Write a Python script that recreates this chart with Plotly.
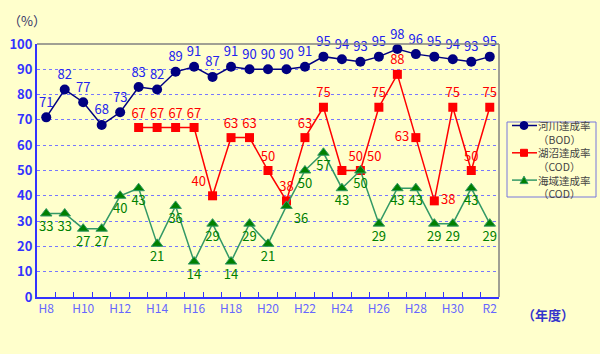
import plotly.graph_objects as go

years = ["H8","H9","H10","H11","H12","H13","H14","H15","H16","H17","H18","H19","H20",
         "H21","H22","H23","H24","H25","H26","H27","H28","H29","H30","R1","R2"]
tick_labels = [y if i % 2 == 0 else "" for i, y in enumerate(years)]
river = [71,82,77,68,73,83,82,89,91,87,91,90,90,90,91,95,94,93,95,98,96,95,94,93,95]
lake = [None]*5 + [67,67,67,67,40,63,63,50,38,63,75,50,50,75,88,63,38,75,50,75]
sea = [33,33,27,27,40,43,21,36,14,29,14,29,21,36,50,57,43,50,29,43,43,29,29,43,29]
series_names = ["河川達成率", "湖沼達成率", "海域達成率"]
series_sub = ["（BOD）", "（COD）", "（COD）"]

river_pos = ["top center"]*25
lake_pos = ["top center"]*25
lake_pos[9] = "top left"
lake_pos[16] = "top right"
lake_pos[17] = "top right"
lake_pos[20] = "middle left"
lake_pos[21] = "middle right"
sea_pos = ["bottom center"]*25
sea_pos[13] = "bottom right"

BG = "#FFFFCC"
FONT = "Noto Sans CJK JP"
L, R, T, B = 37, 101, 44, 57
W, H = 600, 354
PW, PH = W - L - R, H - T - B

def px(x):
    return (x - L) / PW

def py(y):
    return (H - B - y) / PH

fig = go.Figure()
fig.add_trace(go.Scatter(
    x=years, y=river, mode="lines+markers+text", name=series_names[0],
    line=dict(color="#000080", width=1.5),
    marker=dict(symbol="circle", size=10, color="#000080"),
    text=[str(v) for v in river], textposition=river_pos, cliponaxis=False,
    textfont=dict(color="#2222EE", size=13, family=FONT)))
fig.add_trace(go.Scatter(
    x=years, y=lake, mode="lines+markers+text", name=series_names[1],
    line=dict(color="#FF0000", width=1.5),
    marker=dict(symbol="square", size=9, color="#FF0000"),
    text=["" if v is None else str(v) for v in lake], textposition=lake_pos, cliponaxis=False,
    textfont=dict(color="#FF0000", size=13, family=FONT)))
fig.add_trace(go.Scatter(
    x=years, y=sea, mode="lines+markers+text", name=series_names[2],
    line=dict(color="#339966", width=1.5),
    marker=dict(symbol="triangle-up", size=10, color="#008000", line=dict(color="#339966", width=1)),
    text=[str(v) for v in sea], textposition=sea_pos, cliponaxis=False,
    textfont=dict(color="#008000", size=13, family=FONT)))

shapes = [
    dict(type="line", xref="paper", yref="paper", x0=0, x1=1, y0=1, y1=1,
         line=dict(color="#808080", width=1.5)),
    dict(type="line", xref="paper", yref="paper", x0=1, x1=1, y0=0, y1=1,
         line=dict(color="#808080", width=1.5)),
    # legend box
    dict(type="rect", xref="paper", yref="paper", x0=px(507), x1=px(596), y0=py(197), y1=py(122),
         line=dict(color="#7777DD", width=1), fillcolor=BG),
]
legend_text = "<br>".join(n + "<br>" + s for n, s in zip(series_names, series_sub))
LFS = 10.5
line_h = LFS * 1.3
y_first = 125.5
annotations = [
    dict(text="（%）", xref="paper", yref="paper", x=px(27), y=py(20), xanchor="center",
         yanchor="middle", showarrow=False, font=dict(size=13, color="#333366", family=FONT)),
    dict(text="<b>（年度）</b>", xref="paper", yref="paper", x=px(548), y=py(314),
         xanchor="center", yanchor="middle", showarrow=False,
         font=dict(size=13, color="#3333CC", family=FONT)),
    dict(text=legend_text, xref="paper", yref="paper", x=px(537),
         y=py(y_first + 2.5 * line_h), xanchor="left", yanchor="middle", align="left",
         showarrow=False, borderpad=0, font=dict(size=LFS, color="#444444", family=FONT)),
]

leg_colors = ["#000080", "#FF0000", "#339966"]
leg_y = [y_first + 2 * i * line_h for i in range(3)]
for i in range(3):
    yc = leg_y[i]
    shapes.append(dict(type="line", xref="paper", yref="paper", x0=px(512), x1=px(537),
                       y0=py(yc), y1=py(yc), line=dict(color=leg_colors[i], width=1.5)))
# legend markers
yc = leg_y[0]
shapes.append(dict(type="circle", xref="paper", yref="paper", x0=px(520), x1=px(528),
                   y0=py(yc + 4), y1=py(yc - 4), fillcolor="#000080", line=dict(color="#000080", width=1)))
yc = leg_y[1]
shapes.append(dict(type="rect", xref="paper", yref="paper", x0=px(520.5), x1=px(527.5),
                   y0=py(yc + 3.5), y1=py(yc - 3.5), fillcolor="#FF0000", line=dict(color="#FF0000", width=1)))
yc = leg_y[2]
shapes.append(dict(type="path", xref="paper", yref="paper",
                   path="M {a},{b} L {c},{b} L {d},{e} Z".format(a=px(520), b=py(yc + 3.5), c=px(528),
                                                                  d=px(524), e=py(yc - 4)),
                   fillcolor="#008000", line=dict(color="#339966", width=1)))

fig.update_layout(
    width=W, height=H,
    margin=dict(l=L, r=R, t=T, b=B, autoexpand=False),
    paper_bgcolor=BG, plot_bgcolor=BG,
    font=dict(family=FONT),
    showlegend=False,
    xaxis=dict(type="category", categoryorder="array", categoryarray=years,
               tickvals=years, ticktext=tick_labels, tickson="boundaries",
               ticks="inside", ticklen=5, tickcolor="#3333FF", tickangle=0,
               tickfont=dict(color="#6666FF", size=12, family=FONT),
               showline=True, linecolor="#3333FF", linewidth=2,
               showgrid=False, zeroline=False, mirror=False,
               range=[-0.5, 24.5]),
    yaxis=dict(range=[0, 100], dtick=10,
               tickfont=dict(color="#3333FF", size=13, family=FONT, weight="bold"),
               showline=True, linecolor="#3333FF", linewidth=2,
               showgrid=True, gridcolor="#7777FF", griddash="dot", gridwidth=1,
               zeroline=False, ticks=""),
    shapes=shapes,
    annotations=annotations,
)
fig.write_html("out.html")
